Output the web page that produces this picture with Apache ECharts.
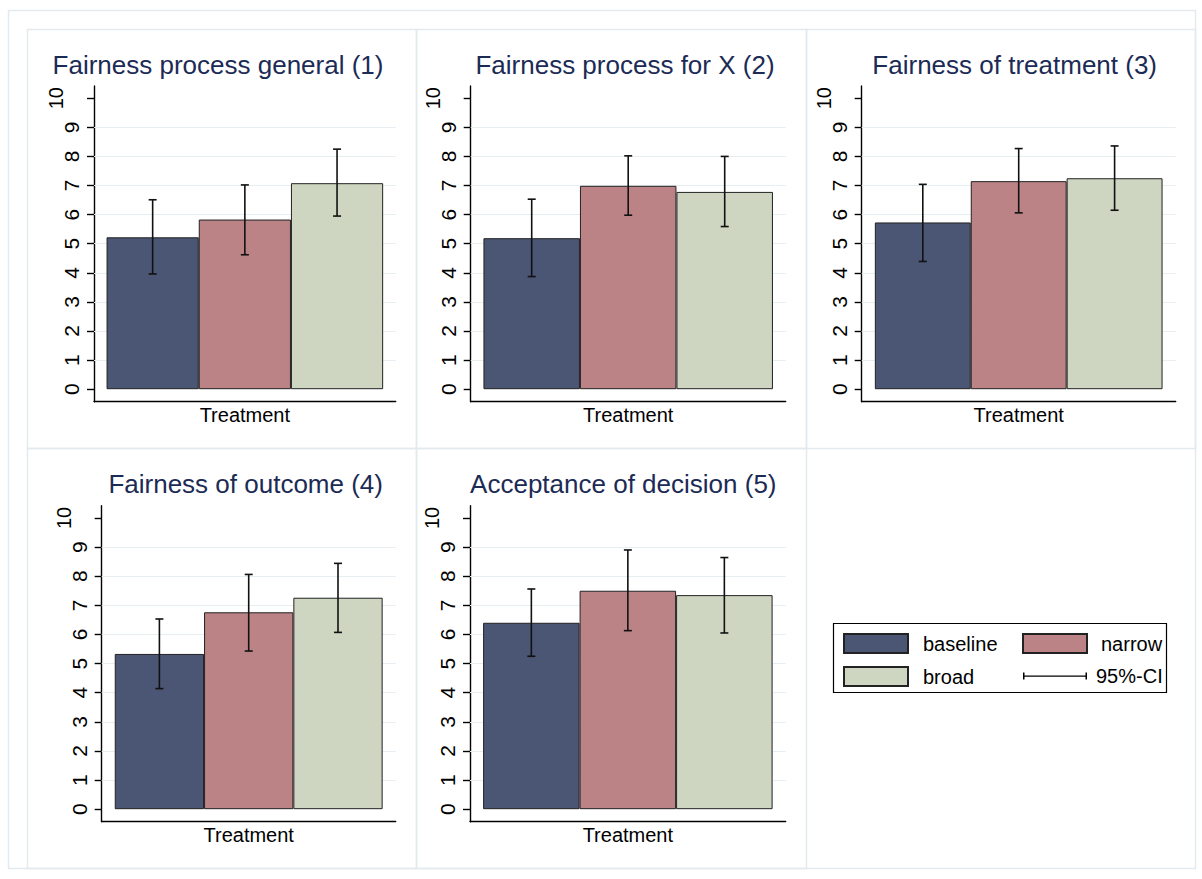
<!DOCTYPE html>
<html>
<head>
<meta charset="utf-8">
<script src="https://cdn.jsdelivr.net/npm/echarts@6/dist/echarts.min.js"></script>
<style>
  html, body { margin: 0; padding: 0; background: #ffffff; }
  #chart { width: 1202px; height: 879px; }
</style>
</head>
<body>
<div id="chart"></div>
<script>
// ---------------- data ----------------
const categories = ['baseline', 'narrow', 'broad'];
const xCategory = ['Treatment'];
const panelTitles = [
  'Fairness process general (1)',
  'Fairness process for X (2)',
  'Fairness of treatment (3)',
  'Fairness of outcome (4)',
  'Acceptance of decision (5)'
];
const baselineMean = [5.22, 5.19, 5.73, 5.33, 6.40];
const narrowMean   = [5.83, 6.99, 7.15, 6.76, 7.50];
const broadMean    = [7.08, 6.78, 7.25, 7.26, 7.35];
const baselineLo = [3.96, 3.87, 4.39, 4.14, 5.25];
const baselineHi = [6.51, 6.53, 7.04, 6.53, 7.56];
const narrowLo   = [4.62, 5.98, 6.06, 5.43, 6.13];
const narrowHi   = [7.02, 8.02, 8.27, 8.06, 8.90];
const broadLo    = [5.95, 5.59, 6.15, 6.07, 6.05];
const broadHi    = [8.25, 8.00, 8.36, 8.44, 8.64];
const yTicks = [0, 1, 2, 3, 4, 5, 6, 7, 8, 9, 10];
const gridValues = [1, 2, 3, 4, 5, 6, 7, 8, 9];
const ciName = '95%-CI';

// ---------------- layout / style ----------------
const FONT = '"Liberation Sans", Arial, Helvetica, sans-serif';
const colors = ['#4b5674', '#bb8385', '#ced6c2'];
const titleColor = '#1c2b55';
const cellBorder = '#e2eaee';
const Y_MIN = -0.43, Y_MAX = 10.42;

const layouts = [
  { left: 94,    right: 395.7,  top: 86,    bottom: 401.7, barW: 92.2, titleX: 218,   titleY: 52 },
  { left: 470.7, right: 785.7,  top: 86,    bottom: 401.7, barW: 96.5, titleX: 625,   titleY: 52 },
  { left: 861.7, right: 1175.7, top: 86,    bottom: 401.7, barW: 95.9, titleX: 1014.7,titleY: 52 },
  { left: 101.7, right: 395.7,  top: 505.7, bottom: 821.7, barW: 89.3, titleX: 245.7, titleY: 471 },
  { left: 470,   right: 785.7,  top: 505.7, bottom: 821.7, barW: 96.5, titleX: 623.3, titleY: 471 }
];

const means = [baselineMean, narrowMean, broadMean];
const los = [baselineLo, narrowLo, broadLo];
const his = [baselineHi, narrowHi, broadHi];

const grids = [], xAxes = [], yAxes = [], series = [], titles = [];

function ciRenderer(bw) {
  return function (params, api) {
    const g = api.value(3);
    const pLo = api.coord([api.value(0), api.value(1)]);
    const pHi = api.coord([api.value(0), api.value(2)]);
    const x = pLo[0] + (g - 1) * bw;
    const cap = 4;
    const st = { stroke: '#111', lineWidth: 1.6 };
    return {
      type: 'group',
      children: [
        { type: 'line', shape: { x1: x, y1: pLo[1], x2: x, y2: pHi[1] }, style: st },
        { type: 'line', shape: { x1: x - cap, y1: pLo[1], x2: x + cap, y2: pLo[1] }, style: st },
        { type: 'line', shape: { x1: x - cap, y1: pHi[1], x2: x + cap, y2: pHi[1] }, style: st }
      ]
    };
  };
}

layouts.forEach((L, p) => {
  grids.push({ left: L.left, top: L.top, width: L.right - L.left, height: L.bottom - L.top, containLabel: false });
  xAxes.push({
    type: 'category', gridIndex: p, data: xCategory,
    axisLine: { onZero: false, lineStyle: { color: '#000', width: 1.4 } },
    axisTick: { show: false },
    axisLabel: { show: true, margin: 3, fontSize: 20, color: '#000', fontFamily: FONT },
    splitLine: { show: false }
  });
  yAxes.push({
    type: 'value', gridIndex: p, min: Y_MIN, max: Y_MAX,
    axisLine: { show: true, onZero: false, lineStyle: { color: '#000', width: 1.4 } },
    axisTick: { show: true, length: 7, customValues: yTicks, lineStyle: { color: '#000', width: 1.4 } },
    axisLabel: {
      customValues: yTicks, rotate: 90, margin: 12, fontSize: 21, color: '#000', fontFamily: FONT,
      formatter: v => (v === 10 ? '{t|10}' : String(v)),
      rich: { t: { fontSize: 20, fontFamily: FONT, color: '#000', padding: [0, 0, 16, 0] } }
    },
    splitLine: { show: false }
  });
  categories.forEach((c, k) => {
    const s = {
      type: 'bar', name: c, xAxisIndex: p, yAxisIndex: p,
      data: [means[k][p]], barWidth: L.barW, barGap: '0%',
      itemStyle: { color: colors[k], borderColor: '#222', borderWidth: 1 },
      z: 2
    };
    if (k === 0) {
      s.markLine = {
        silent: true, symbol: 'none', z: 1, animation: false,
        label: { show: false },
        lineStyle: { color: '#e6eef2', width: 1.2, type: 'solid' },
        emphasis: { disabled: true },
        data: gridValues.map(v => ({ yAxis: v }))
      };
    }
    series.push(s);
  });
  series.push({
    type: 'custom', name: ciName, xAxisIndex: p, yAxisIndex: p,
    renderItem: ciRenderer(L.barW),
    itemStyle: { color: '#000' },
    encode: { x: 0, y: [1, 2] },
    data: categories.map((c, k) => [0, los[k][p], his[k][p], k]),
    z: 4
  });
  titles.push({
    text: panelTitles[p], left: L.titleX, top: L.titleY, textAlign: 'center', padding: 0,
    textStyle: { fontSize: 26, fontWeight: 'normal', color: titleColor, fontFamily: FONT }
  });
});

// cell borders (decoration)
const cellRects = [
  [27, 29, 389, 419], [416, 29, 390, 419], [806, 29, 389, 419],
  [27, 448, 389, 420], [416, 448, 390, 420]
];
const graphics = [
  { type: 'rect', shape: { x: 8.5, y: 10.5, width: 1187, height: 858 }, style: { fill: 'none', stroke: cellBorder, lineWidth: 1.5 }, silent: true, z: 0 }
].concat(cellRects.map(r => ({
  type: 'rect', shape: { x: r[0] + 0.5, y: r[1] + 0.5, width: r[2], height: r[3] },
  style: { fill: 'none', stroke: cellBorder, lineWidth: 1.5 }, silent: true, z: 0
}))).concat([
  { type: 'rect', shape: { x: 833.5, y: 623.5, width: 333, height: 69 }, style: { fill: 'none', stroke: '#000', lineWidth: 1.2 }, silent: true, z: 0 }
]);

const ciIcon = 'path://M0,0 L1.5,0 L1.5,7 L0,7 Z M0,3 L64,3 L64,4.2 L0,4.2 Z M62.5,0 L64,0 L64,7 L62.5,7 Z';

const legendText = { fontSize: 20, color: '#000', fontFamily: FONT, lineHeight: 19 };

const option = {
  backgroundColor: '#ffffff',
  animation: false,
  title: titles,
  grid: grids,
  xAxis: xAxes,
  yAxis: yAxes,
  graphic: graphics,
  legend: [
    {
      left: 843, top: 633, orient: 'vertical', padding: 0, itemGap: 12,
      itemWidth: 64, itemHeight: 19, selectedMode: false, icon: 'rect',
      data: ['baseline', 'broad'],
      formatter: n => '{a|' + n + '}',
      textStyle: Object.assign({}, legendText, { rich: { a: Object.assign({ padding: [0, 0, 0, 10] }, legendText) } })
    },
    {
      left: 1022, top: 633, orient: 'vertical', padding: 0, itemGap: 12,
      itemWidth: 64, itemHeight: 19, selectedMode: false,
      data: [{ name: 'narrow', icon: 'rect' }, { name: ciName, icon: ciIcon }],
      formatter: n => (n === 'narrow' ? '{a|' + n + '}' : '{b|' + n + '}'),
      textStyle: Object.assign({}, legendText, { rich: {
        a: Object.assign({ padding: [0, 0, 0, 9] }, legendText),
        b: Object.assign({ padding: [0, 0, 0, 4] }, legendText)
      } })
    }
  ],
  series: series
};

const chart = echarts.init(document.getElementById('chart'), null, { renderer: 'svg' });
chart.setOption(option);
</script>
</body>
</html>
